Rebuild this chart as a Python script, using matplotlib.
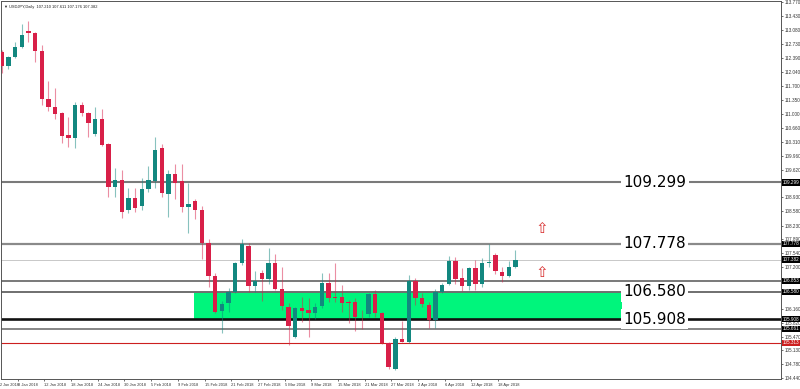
import matplotlib.pyplot as plt
from matplotlib.patches import Rectangle
from matplotlib.transforms import blended_transform_factory
import pandas as pd

# USDJPY daily bars, one value per bar, starting 4 Jan 2018
opens = [112.547, 112.200, 112.423, 112.671, 113.061, 113.004, 112.565, 111.365, 111.181, 111.032,
         110.471, 110.404, 111.216, 111.017, 110.503, 110.876, 110.248, 109.180, 109.361, 108.616,
         108.914, 108.715, 109.138, 109.336, 110.148, 109.006, 109.503, 109.344, 108.698, 108.840,
         108.616, 107.789, 106.985, 106.108, 106.314, 106.573, 107.308, 107.730, 106.729, 107.059,
         106.903, 107.308, 106.654, 106.215, 105.470, 106.175, 106.125, 106.066, 106.220, 106.796,
         106.463, 106.463, 106.327, 106.339, 106.041, 106.034, 106.523, 106.066, 105.321, 104.660,
         105.405, 105.331, 106.853, 106.424, 106.257, 105.885, 106.588, 106.771, 107.357, 106.935,
         106.729, 107.168, 106.779, 107.293, 107.491, 107.076, 106.985, 107.210]
highs = [112.580, 112.448, 112.796, 113.235, 113.317, 113.029, 112.714, 111.820, 111.653, 111.050,
         110.933, 111.306, 111.306, 111.050, 111.166, 111.124, 110.280, 109.667, 109.610, 109.163,
         109.163, 109.411, 109.709, 110.436, 110.255, 109.610, 109.751, 109.751, 109.279, 108.882,
         108.716, 107.889, 107.044, 106.356, 106.672, 107.333, 107.896, 107.789, 107.109, 107.126,
         107.665, 107.516, 107.193, 106.314, 106.200, 106.463, 106.424, 106.299, 107.044, 107.059,
         107.293, 106.754, 106.381, 106.424, 106.133, 106.548, 106.630, 106.080, 105.330, 105.455,
         105.867, 107.002, 106.920, 106.548, 106.339, 106.647, 106.796, 107.474, 107.457, 107.183,
         107.208, 107.375, 107.417, 107.772, 107.541, 107.208, 107.357, 107.611]
lows = [112.011, 112.110, 112.398, 112.647, 112.796, 112.299, 111.224, 111.075, 110.868, 110.287,
        110.188, 110.148, 110.958, 110.436, 110.454, 110.213, 108.932, 108.932, 108.418, 108.542,
        108.566, 108.616, 109.063, 109.155, 108.946, 108.435, 108.882, 108.559, 108.038, 108.385,
        107.392, 106.697, 106.051, 105.554, 106.091, 106.555, 107.250, 106.587, 106.587, 106.364,
        106.778, 106.630, 106.133, 105.264, 105.430, 105.842, 105.470, 105.902, 106.190, 106.339,
        106.339, 106.091, 105.803, 105.619, 105.661, 105.952, 105.952, 105.289, 104.660, 104.643,
        105.326, 105.313, 106.257, 106.215, 105.693, 105.693, 106.548, 106.754, 106.771, 106.605,
        106.630, 106.630, 106.697, 107.208, 107.027, 106.836, 106.960, 107.176]
closes = [112.200, 112.423, 112.671, 112.962, 113.004, 112.565, 111.365, 111.181, 110.993, 110.461,
          110.397, 111.224, 111.017, 110.769, 110.876, 110.238, 109.180, 109.361, 108.566, 108.914,
          108.666, 109.138, 109.361, 110.106, 109.031, 109.503, 109.279, 108.698, 108.765, 108.616,
          107.789, 106.985, 106.091, 106.282, 106.573, 107.308, 107.764, 106.729, 106.853, 106.895,
          107.308, 106.654, 106.232, 105.736, 106.175, 106.116, 106.066, 106.215, 106.796, 106.424,
          106.431, 106.314, 106.314, 105.952, 106.026, 106.523, 106.066, 105.306, 104.725, 105.405,
          105.338, 106.853, 106.424, 106.274, 105.885, 106.573, 106.754, 107.357, 106.895, 106.729,
          107.183, 106.779, 107.293, 107.325, 107.101, 106.985, 107.208, 107.382]

dates = pd.bdate_range('2018-01-04', periods=len(opens))

# drawn levels: (price, colour, width)
levels = [(109.299, '#7a7a7a', 1.5), (107.778, '#8a8a8a', 1.6), (107.382, '#c8c8c8', 0.7),
          (106.853, '#555555', 1.1), (106.580, '#6f6f6f', 1.4), (105.908, '#111111', 1.9),
          (105.661, '#666666', 1.1), (105.313, '#cc1f1f', 0.8)]
big_labels = [109.299, 107.778, 106.580, 105.908]
zone = (105.908, 106.580)
zone_bars = (28.8, 93.0)
arrow_prices = [108.145, 107.052]
arrow_bar = 80.9

price_ticks = [113.770, 113.430, 113.080, 112.730, 112.390, 112.040, 111.700, 111.350, 111.000,
               110.660, 110.310, 109.960, 109.620, 108.930, 108.580, 108.230, 107.890, 107.540,
               107.200, 106.850, 106.510, 106.160, 105.820, 105.470, 105.130, 104.780, 104.440]

BULL = '#12877f'
BEAR = '#d81f48'
SMALL = ['Liberation Sans', 'DejaVu Sans']

fig = plt.figure(figsize=(8, 3.89), dpi=100)
ax = fig.add_axes([1 / 800, 10 / 389, 780 / 800, 378 / 389])
ax.set_xlim(-0.1, 116.8)
ax.set_ylim(104.419, 113.806)

# support / resistance zone
ax.add_patch(Rectangle((zone_bars[0], zone[0]), zone_bars[1] - zone_bars[0], zone[1] - zone[0],
                       facecolor='#00f57c', edgecolor='none', zorder=1))

for price, col, lw in levels:
    ax.axhline(price, color=col, lw=lw, zorder=2)

# candles
x = list(range(len(opens)))
cols = [BULL if c >= o else BEAR for o, c in zip(opens, closes)]
ax.vlines(x, lows, highs, colors=cols, lw=0.8, alpha=0.5, zorder=3)
bottoms = [min(o, c) for o, c in zip(opens, closes)]
heights = [max(abs(c - o), 0.012) for o, c in zip(opens, closes)]
ax.bar(x, heights, bottom=bottoms, width=0.65, color=cols, edgecolor='none', zorder=4)

for p in big_labels:
    ax.text(97.9, p, f'{p:.3f}', fontsize=11, ha='center', va='center', zorder=6,
            bbox=dict(facecolor='white', edgecolor='none', pad=1.5))

for p in arrow_prices:
    ax.text(arrow_bar, p, '\u21e7', color='#d83030', fontsize=11, ha='center', va='center', zorder=6)

# right price scale, labels hidden where a level box sits on top of them
shown = [t for t in price_ticks if all(abs(t - lv[0]) > 0.08 for lv in levels)]
ax.yaxis.tick_right()
ax.set_yticks(shown)
ax.set_yticklabels([f'{t:.3f}' for t in shown], family=SMALL)
ax.tick_params(axis='y', labelsize=3.3, colors='#333333', length=1.5, width=0.5, pad=1)
trans = blended_transform_factory(ax.transAxes, ax.transData)
for price, col, lw in levels:
    box = '#cc1f1f' if col == '#cc1f1f' else 'black'
    ax.text(1.002, price, f'{price:.3f}', transform=trans, fontsize=3.3, color='white',
            family=SMALL, ha='left', va='center', zorder=7, clip_on=False,
            bbox=dict(facecolor=box, edgecolor='none', pad=0.5))

# date scale
tick_idx = list(range(2, len(dates), 4))
ax.set_xticks([i + 0.4 for i in tick_idx])
ax.set_xticklabels([f'{dates[i].day} {dates[i]:%b %Y}' for i in tick_idx], ha='left', family=SMALL)
ax.tick_params(axis='x', labelsize=2.9, colors='#333333', length=1.5, width=0.5, pad=1.5)
ax.text(-0.0015, -0.01, '2 Jan 2018', transform=ax.transAxes, fontsize=2.7, color='#333333',
        family=SMALL, ha='left', va='top', clip_on=False)

for s in ax.spines.values():
    s.set_color('#555555')
    s.set_linewidth(0.7)

ax.text(0.004, 0.99, '\u25bc USDJPY,Daily  107.210 107.611 107.176 107.382', transform=ax.transAxes,
        fontsize=2.9, color='#222222', family=SMALL, ha='left', va='top')

fig.savefig('out.png', dpi=100)
